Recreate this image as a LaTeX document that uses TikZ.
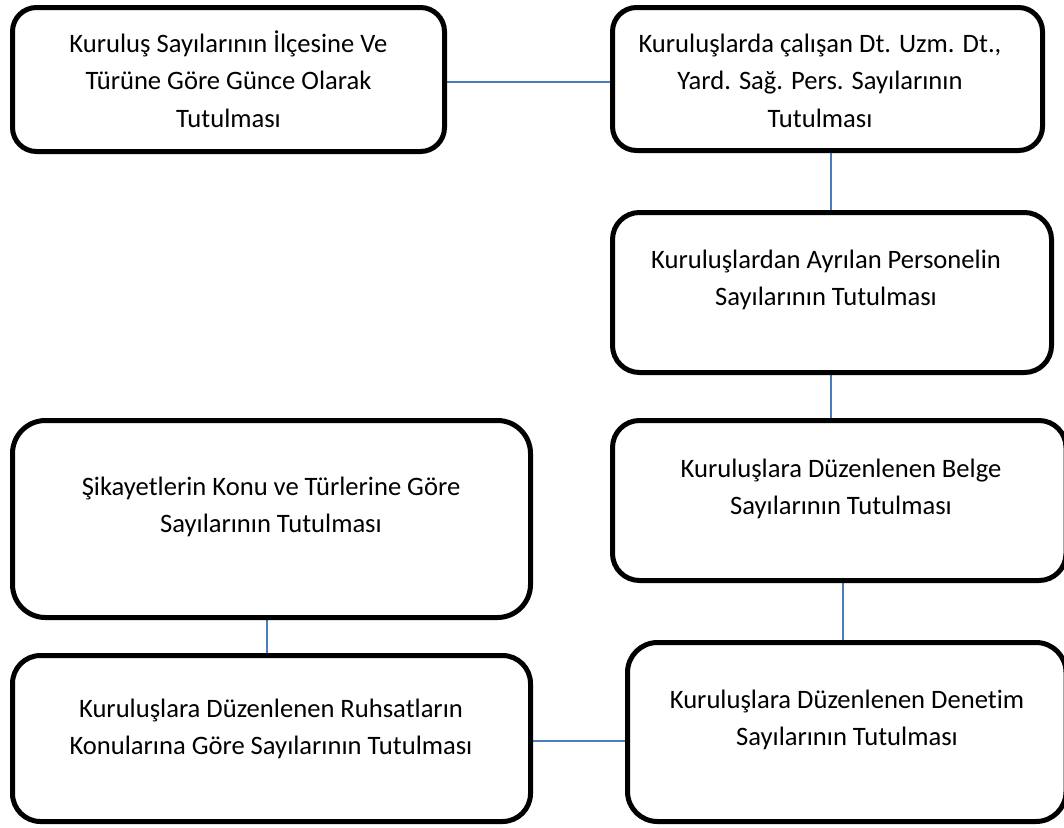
\documentclass[tikz,border=0pt]{standalone}
\usepackage{fontspec}
\setmainfont{Carlito}[Ligatures={NoCommon,NoRare}]
\usetikzlibrary{backgrounds}
\definecolor{linkblue}{RGB}{74,126,187}
\tikzset{
  box/.style={draw=black, line width=5pt, fill=white, rounded corners=#1,
    inner sep=0pt, outer sep=0pt},
  box/.default=25pt,
  link/.style={draw=linkblue, line width=1.8pt},
  caption/.style={inner sep=0pt, anchor=base,
    font=\fontsize{26.6}{37.5}\selectfont}
}
\newcommand{\lines}[1]{\begin{tabular}[t]{@{}c@{}}#1\end{tabular}}
\begin{document}
\begin{tikzpicture}[x=1pt,y=-1pt]
\useasboundingbox (0,0) rectangle (1064,827);

% boxes
\node[box=24pt, minimum width=432pt,   minimum height=144pt] (b1) at (228.5,79.5) {};
\node[box=24pt, minimum width=430pt,   minimum height=143pt] (b2) at (827.5,79) {};
\node[box=27pt, minimum width=439pt,   minimum height=160pt] (b3) at (832,292.5) {};
\node[box=27pt, minimum width=453.5pt, minimum height=160pt] (b4) at (839.25,500.5) {};
\node[box=33pt, minimum width=518pt,   minimum height=197pt] (b5) at (271.5,519) {};
\node[box=28pt, minimum width=518pt,   minimum height=166pt] (b6) at (271.5,738.5) {};
\node[box=30pt, minimum width=438.5pt, minimum height=179pt] (b7) at (846.75,732) {};

% captions
\node[caption] (t1) at (228.5,52) {\lines{Kuruluş Sayılarının İlçesine Ve\\Türüne Göre Günce Olarak\\Tutulması}};
\node[caption] (t2) at (820,52) {\lines{Kuruluşlarda çalışan Dt. Uzm. Dt.,\\Yard. Sağ. Pers. Sayılarının\\Tutulması}};
\node[caption] (t3) at (826,268) {\lines{Kuruluşlardan Ayrılan Personelin\\Sayılarının Tutulması}};
\node[caption] (t4) at (841,477) {\lines{Kuruluşlara Düzenlenen Belge\\Sayılarının Tutulması}};
\node[caption] (t5) at (271,495) {\lines{Şikayetlerin Konu ve Türlerine Göre\\Sayılarının Tutulması}};
\node[caption] (t6) at (271,717) {\lines{Kuruluşlara Düzenlenen Ruhsatların\\Konularına Göre Sayılarının Tutulması}};
\node[caption] (t7) at (847,708) {\lines{Kuruluşlara Düzenlenen Denetim\\Sayılarının Tutulması}};

% connectors
\begin{scope}[on background layer]
\draw[link] ([yshift=-2.5pt]b1.east) -- ([yshift=-2.5pt]b1.east -| b2.west);
\draw[link] ([xshift=3.5pt]b2.south) -- ([xshift=3.5pt]b2.south |- b3.north);
\draw[link] ([xshift=-1pt]b3.south) -- ([xshift=-1pt]b3.south |- b4.north);
\draw[link] ([xshift=3.75pt]b4.south) -- ([xshift=3.75pt]b4.south |- b7.north);
\draw[link] ([xshift=-4.5pt]b5.south) -- ([xshift=-4.5pt]b5.south |- b6.north);
\draw[link] ([yshift=-2.5pt]b6.east) -- ([yshift=-2.5pt]b6.east -| b7.west);
\end{scope}
\end{tikzpicture}
\end{document}
